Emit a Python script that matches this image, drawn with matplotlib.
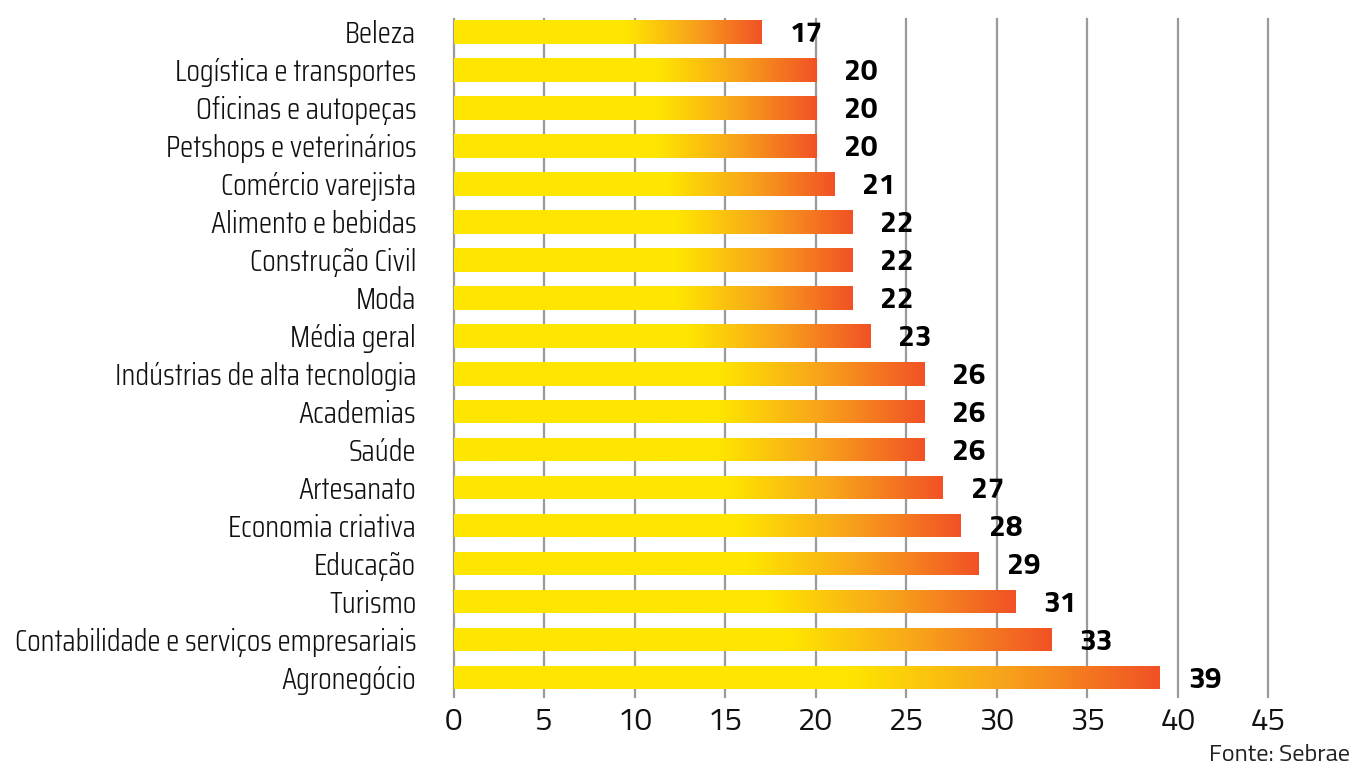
import matplotlib
matplotlib.use("Agg")
import matplotlib.pyplot as plt
import numpy as np
from matplotlib.colors import LinearSegmentedColormap

categories = ["Beleza", "Logística e transportes", "Oficinas e autopeças",
              "Petshops e veterinários", "Comércio varejista", "Alimento e bebidas",
              "Construção Civil", "Moda", "Média geral",
              "Indústrias de alta tecnologia", "Academias", "Saúde", "Artesanato",
              "Economia criativa", "Educação", "Turismo",
              "Contabilidade e serviços empresariais", "Agronegócio"]
values = [17, 20, 20, 20, 21, 22, 22, 22, 23, 26, 26, 26, 27, 28, 29, 31, 33, 39]
xticks = [0, 5, 10, 15, 20, 25, 30, 35, 40, 45]
source = "Fonte: Sebrae"

font = ["Titillium Web", "DejaVu Sans"]
cat_font = ["Saira Condensed", "Titillium Web", "DejaVu Sans"]

fig = plt.figure(figsize=(13.53, 7.65), dpi=100)
ax = fig.add_axes([453.7 / 1353, 1 - 697 / 765, (1268.3 - 453.7) / 1353, (697 - 19) / 765])

cmap = LinearSegmentedColormap.from_list(
    "grad", [(0.0, "#FFE600"), (0.56, "#FFE600"), (0.78, "#F8A31B"), (1.0, "#F15225")])

y = np.arange(len(categories))
bars = ax.barh(y, values, height=0.62, color="none", edgecolor="none", zorder=3)
grad = np.linspace(0, 1, 512).reshape(1, -1)
for b in bars:
    x0, y0, w, h = b.get_x(), b.get_y(), b.get_width(), b.get_height()
    im = ax.imshow(grad, cmap=cmap, extent=(x0, x0 + w, y0, y0 + h),
                   aspect="auto", interpolation="bilinear", zorder=3, origin="lower")
    im.set_clip_path(b)

for yi, v in zip(y, values):
    ax.text(v + 1.55, yi + 0.07, str(v), ha="left", va="center",
            fontsize=21.5, fontweight=700, family=font, color="black", zorder=4)

ax.set_xlim(0, 45)
ax.set_ylim(17.513, -0.342)
ax.set_aspect("auto")
for t in xticks:
    ax.axvline(t, color="#9a9a9a", lw=1.6, zorder=1, clip_on=False)

for s in ax.spines.values():
    s.set_visible(False)
ax.set_xticks(xticks)
ax.set_xticklabels([str(t) for t in xticks], fontsize=22.5, family=font,
                   fontweight=400, color="#111111")
ax.tick_params(axis="x", length=0, pad=7)
ax.set_yticks(y)
ax.set_yticklabels(categories, fontsize=22, family=cat_font, fontweight=300, color="#111111")
ax.tick_params(axis="y", length=0, pad=27)

fig.text(1350 / 1353, 1 - 755 / 765, source, ha="right", va="center",
         fontsize=17.5, family=font, fontweight=400, color="#222222")

fig.savefig("out.png", dpi=100)
